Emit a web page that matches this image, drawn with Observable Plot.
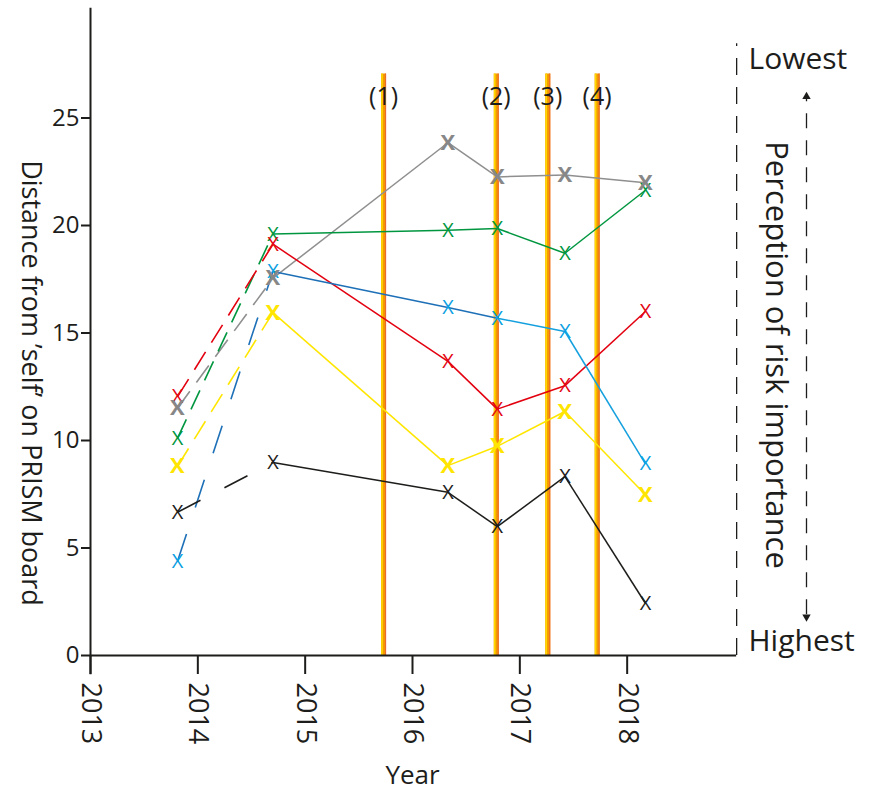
<!DOCTYPE html>
<html><head><meta charset="utf-8">
<script src="https://cdn.jsdelivr.net/npm/d3@7"></script>
<script src="https://cdn.jsdelivr.net/npm/@observablehq/plot@0.6"></script>
<style>
body{margin:0;background:#fff}
svg{font-family:"Open Sans",sans-serif}
</style>
</head><body><div id="chart"></div>
<script>
// ---- data ----
const times = [2013.81, 2014.70, 2016.33, 2016.79, 2017.42, 2018.17];
const seriesNames = ["gray", "green", "red", "blue", "yellow", "black"];
const gray   = [11.5, 17.55, 23.85, 22.26, 22.35, 21.99];
const green  = [10.1, 19.6, 19.78, 19.86, 18.71, 21.64];
const red    = [12.03, 19.13, 13.68, 11.46, 12.55, 16.0];
const blue   = [4.37, 17.86, 16.19, 15.69, 15.07, 8.91];
const yellow = [8.8, 15.95, 8.83, 9.73, 11.35, 7.48];
const black  = [6.66, 8.98, 7.59, 5.99, 8.32, 2.43];
const events = [2015.73, 2016.78, 2017.26, 2017.72];
const eventLabels = ["(1)", "(2)", "(3)", "(4)"];
const yTicks = [0, 5, 10, 15, 20, 25];
const xTicks = [2013, 2014, 2015, 2016, 2017, 2018];

// ---- styles ----
const values = {gray, green, red, blue, yellow, black};
const markerColor = {gray:"#878787", green:"#009640", red:"#e30613", blue:"#0aa0e2", yellow:"#ffe500", black:"#1d1d1b"};
const lineColor = {gray:"#8f8f8f", green:"#00963f", red:"#e3000f", blue:"#1d70b7", yellow:"#ffe600", black:"#1d1d1b"};
const dashOf = {gray:"21,11", green:"21,11", red:"21,11", yellow:"21,11", blue:"29,28", black:"26,27"};
const bold = new Set(["gray", "yellow"]);

const segments = [];
const points = [];
for (const s of seriesNames) {
  const v = values[s];
  v.forEach((y, i) => points.push({s, x: times[i], y}));
  for (let i = 0; i < v.length - 1; i++) {
    let stroke = lineColor[s];
    if (s === "blue" && i >= 3) stroke = "#14a0de";
    segments.push({s, i, x1: times[i], y1: v[i], x2: times[i + 1], y2: v[i + 1], stroke});
  }
}
const events2 = events.map((x, i) => ({x, label: eventLabels[i]}));

const chart = Plot.plot({
  width: 871,
  height: 794,
  marginLeft: 90,
  marginRight: 137,
  marginTop: 10,
  marginBottom: 139,
  x: {domain: [2013, 2019]},
  y: {domain: [0, 30]},
  marks: [
    // event lines
    Plot.ruleX(events, {y1: 0, y2: 27.05, stroke: "#f49a00", strokeWidth: 5}),
    Plot.ruleX(events, {y1: 0, y2: 27.05, stroke: "#ffd900", strokeWidth: 1.6, dx: -1.5}),
    Plot.ruleX(events, {y1: 0, y2: 27.05, stroke: "#ec6a2c", strokeWidth: 1.2, dx: 2}),
    // axes lines
    Plot.ruleX([2013], {y1: -0.9, y2: 30.1, stroke: "#1d1d1b", strokeWidth: 2}),
    Plot.ruleY([0], {x1: 2013, x2: 2019.02, stroke: "#1d1d1b", strokeWidth: 2}),
    Plot.axisY(yTicks, {tickSize: 9, tickPadding: 2, fontSize: 24, label: null, stroke: "#1d1d1b", strokeWidth: 2, color: "#1d1d1b"}),
    Plot.axisX(xTicks, {tickSize: 19, tickPadding: 8, tickRotate: 90, fontSize: 27, label: null, tickFormat: d => String(d), strokeWidth: 2, color: "#1d1d1b"}),
    // series: dashed first segments
    ...seriesNames.map(s => Plot.link(segments.filter(d => d.s === s && d.i === 0), {
      x1: "x1", y1: "y1", x2: "x2", y2: "y2", stroke: "stroke", strokeWidth: 1.6, strokeDasharray: dashOf[s]
    })),
    Plot.link(segments.filter(d => d.i > 0), {x1: "x1", y1: "y1", x2: "x2", y2: "y2", stroke: "stroke", strokeWidth: 1.5}),
    // markers
    Plot.text(points.filter(d => !bold.has(d.s)), {x: "x", y: "y", text: () => "X", fill: d => markerColor[d.s], fontSize: 20}),
    Plot.text(points.filter(d => bold.has(d.s)), {x: "x", y: "y", text: () => "X", fill: d => markerColor[d.s], fontSize: 22, fontWeight: "bold"}),
    // event labels
    Plot.text(events2, {x: "x", frameAnchor: "top", dy: 86, lineAnchor: "middle", text: "label", fontSize: 25, fill: "#1d1d1b"}),
    // axis titles
    Plot.text(["Year"], {frameAnchor: "bottom", x: () => 2016, dy: 120, lineAnchor: "middle", text: d => d, fontSize: 26, fill: "#1d1d1b"}),
    Plot.text(["Distance from \u2019self\u2019 on PRISM board"], {frameAnchor: "left", dx: -60, dy: 50, rotate: 90, textAnchor: "middle", lineAnchor: "middle", text: d => d, fontSize: 27, fill: "#1d1d1b"}),
    // right legend
    Plot.ruleX([2019.02], {y1: 0, y2: 28.45, stroke: "#1d1d1b", strokeWidth: 1.3, strokeDasharray: "17,12"}),
    Plot.text(["Lowest"], {frameAnchor: "top-right", dx: 14, dy: 49, textAnchor: "start", lineAnchor: "middle", text: d => d, fontSize: 30, fill: "#1d1d1b"}),
    Plot.text(["Highest"], {frameAnchor: "bottom-right", dx: 14, dy: -14, textAnchor: "start", lineAnchor: "middle", text: d => d, fontSize: 30, fill: "#1d1d1b"}),
    Plot.ruleX([2019], {dx: 72, y1: 1.9, y2: 25.9, stroke: "#1d1d1b", strokeWidth: 1.3, strokeDasharray: "15,12"}),
    Plot.dot([2019], {x: d => d, y: () => 26.0, dx: 72, symbol: "triangle2", r: 4, fill: "#1d1d1b", stroke: "none"}),
    Plot.dot([2019], {x: d => d, y: () => 1.8, dx: 72, symbol: "triangle2", r: 4, rotate: 180, fill: "#1d1d1b", stroke: "none"}),
    Plot.text(["Perception of risk importance"], {frameAnchor: "right", dx: 41, dy: 22, rotate: 90, textAnchor: "middle", lineAnchor: "middle", text: d => d, fontSize: 31, fill: "#1d1d1b"})
  ]
});
document.getElementById("chart").appendChild(chart);
</script>
</body></html>
